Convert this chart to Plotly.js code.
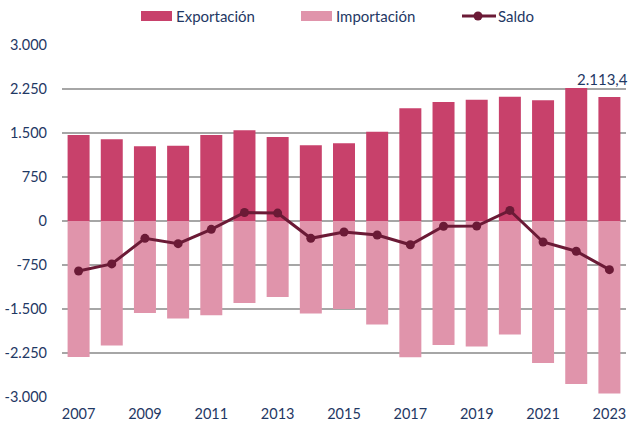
<!DOCTYPE html>
<html>
<head>
<meta charset="utf-8">
<script src="https://cdn.plot.ly/plotly-3.0.1.min.js"></script>
<style>html,body{margin:0;padding:0;background:#fff;}#chart{width:628px;height:427px;}</style>
</head>
<body>
<div id="chart"></div>
<script>
var years = [2007,2008,2009,2010,2011,2012,2013,2014,2015,2016,2017,2018,2019,2020,2021,2022,2023];
var exportacion = [1466,1392,1273,1284,1466,1545,1432,1290,1324,1523,1920,2028,2068,2119,2057,2267,2113.4];
var importacion = [-2318,-2124,-1568,-1664,-1607,-1398,-1295,-1578,-1500,-1766,-2323,-2114,-2141,-1936,-2420,-2778,-2942];
var saldo = [-852,-732,-295,-386,-142,145,135,-295,-187,-239,-405,-90,-85,180,-358,-515,-829];
var yTickVals = [-3000,-2250,-1500,-750,0,750,1500,2250,3000];
var yTickText = ['-3.000','-2.250','-1.500','-750','0','750','1.500','2.250','3.000'];
var xTickVals = [2007,2009,2011,2013,2015,2017,2019,2021,2023];
var seriesNames = ['Exportación','Importación','Saldo'];
var lastLabel = '2.113,4';

var navy = '#1f3864';
var cExp = '#c8416b', cImp = '#e094ab', cSal = '#6b1a36';
var M = {l:62, r:2, t:45, b:30};
var W = 628, H = 427;
var pw = W - M.l - M.r, ph = H - M.t - M.b;
function px(x){ return (x - M.l) / pw; }
function py(y){ return 1 + (M.t - y) / ph; }

var traces = [
  {type:'bar', name:seriesNames[0], x:years, y:exportacion, marker:{color:cExp}, hoverinfo:'skip', showlegend:false},
  {type:'bar', name:seriesNames[1], x:years, y:importacion, marker:{color:cImp}, hoverinfo:'skip', showlegend:false},
  {type:'scatter', mode:'lines+markers', name:seriesNames[2], x:years, y:saldo,
   line:{color:cSal, width:3}, marker:{color:cSal, size:9}, hoverinfo:'skip', showlegend:false}
];

var legFont = {size:15, color:navy};
var shapes = [
  {type:'rect', xref:'paper', yref:'paper', x0:px(141), x1:px(172), y0:py(21), y1:py(11), fillcolor:cExp, line:{width:0}},
  {type:'rect', xref:'paper', yref:'paper', x0:px(301), x1:px(332), y0:py(21), y1:py(11), fillcolor:cImp, line:{width:0}},
  {type:'line', xref:'paper', yref:'paper', x0:px(462), x1:px(496), y0:py(16), y1:py(16), line:{color:cSal, width:3}},
  {type:'circle', xref:'paper', yref:'paper', x0:px(473.5), x1:px(482.5), y0:py(20.5), y1:py(11.5), fillcolor:cSal, line:{width:0}}
];
var annotations = [
  {xref:'paper', yref:'paper', x:px(174), y:py(16), text:seriesNames[0], showarrow:false, xanchor:'left', yanchor:'middle', font:legFont},
  {xref:'paper', yref:'paper', x:px(334), y:py(16), text:seriesNames[1], showarrow:false, xanchor:'left', yanchor:'middle', font:legFont},
  {xref:'paper', yref:'paper', x:px(496), y:py(16), text:seriesNames[2], showarrow:false, xanchor:'left', yanchor:'middle', font:legFont},
  {x:years[years.length-1], y:exportacion[exportacion.length-1], xref:'x', yref:'y',
   text:lastLabel, showarrow:false, yanchor:'bottom', xanchor:'center', xshift:-7, yshift:7,
   font:{size:15, color:navy}}
];

var layout = {
  width:W, height:H,
  margin:M,
  paper_bgcolor:'#fff', plot_bgcolor:'#fff',
  barmode:'relative', bargap:0.337,
  font:{family:'Lato, "Open Sans", sans-serif', size:14, color:navy},
  showlegend:false,
  xaxis:{range:[2006.5,2023.5], tickvals:xTickVals, ticktext:xTickVals.map(String),
         showgrid:false, zeroline:false, showline:false, ticks:'', ticklabelstandoff:6,
         tickfont:{size:14.5, color:navy}, automargin:false, fixedrange:true},
  yaxis:{range:[-3000,3000], tickvals:yTickVals, ticktext:yTickText,
         showgrid:true, gridcolor:'#a6a6a6', gridwidth:1.3, zeroline:true, zerolinecolor:'#a6a6a6', zerolinewidth:1.3,
         showline:false, ticks:'', ticklabelstandoff:14, tickfont:{size:14.5, color:navy}, automargin:false, fixedrange:true},
  shapes:shapes,
  annotations:annotations
};
Plotly.newPlot('chart', traces, layout, {displayModeBar:false, staticPlot:true});
</script>
</body>
</html>
